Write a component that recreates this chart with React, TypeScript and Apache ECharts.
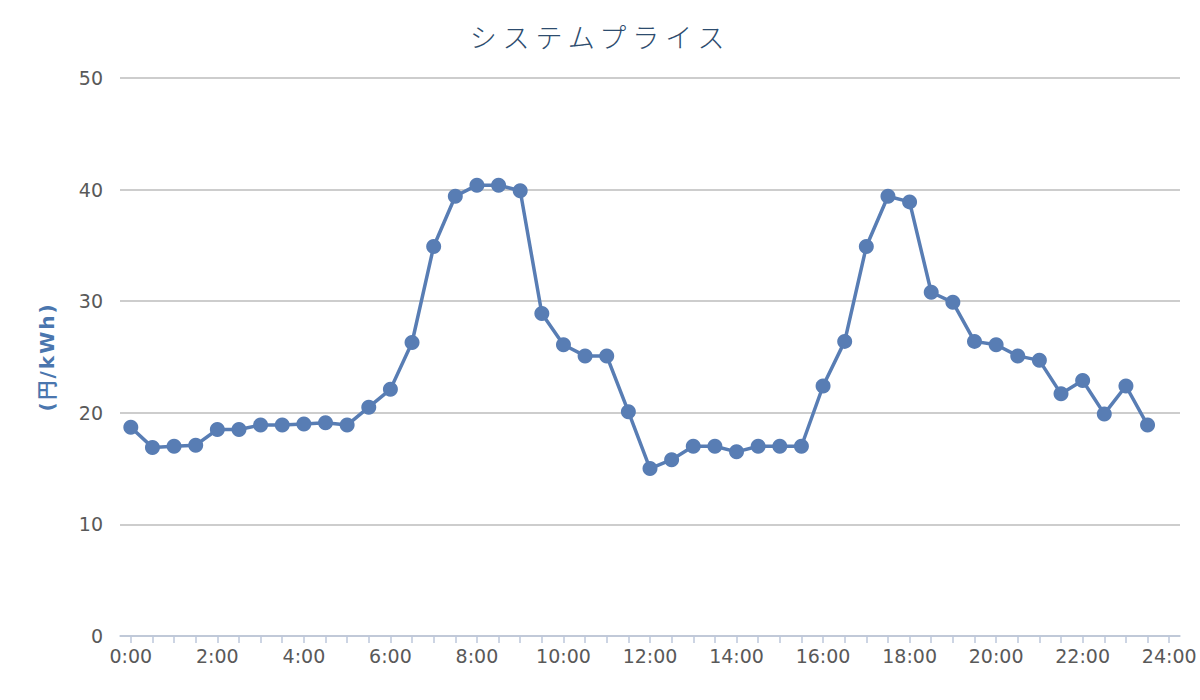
import React, { useEffect, useRef } from "react";
import * as echarts from "echarts";

const times = [
  "0:00", "0:30", "1:00", "1:30", "2:00", "2:30", "3:00", "3:30",
  "4:00", "4:30", "5:00", "5:30", "6:00", "6:30", "7:00", "7:30",
  "8:00", "8:30", "9:00", "9:30", "10:00", "10:30", "11:00", "11:30",
  "12:00", "12:30", "13:00", "13:30", "14:00", "14:30", "15:00", "15:30",
  "16:00", "16:30", "17:00", "17:30", "18:00", "18:30", "19:00", "19:30",
  "20:00", "20:30", "21:00", "21:30", "22:00", "22:30", "23:00", "23:30",
  "24:00",
];

const prices = [
  18.7, 16.9, 17.0, 17.1, 18.5, 18.5, 18.9, 18.9,
  19.0, 19.1, 18.9, 20.5, 22.1, 26.3, 34.9, 39.4,
  40.4, 40.4, 39.9, 28.9, 26.1, 25.1, 25.1, 20.1,
  15.0, 15.8, 17.0, 17.0, 16.5, 17.0, 17.0, 17.0,
  22.4, 26.4, 34.9, 39.4, 38.9, 30.8, 29.9, 26.4,
  26.1, 25.1, 24.7, 21.7, 22.9, 19.9, 22.4, 18.9,
];

const titleText = "システムプライス";
const yAxisName = "(円/kWh)";

export default function App() {
  const ref = useRef<HTMLDivElement>(null);
  useEffect(() => {
    document.body.style.margin = "0";
    const el = ref.current!;
    const chart = echarts.init(el, null, { renderer: "svg" });
    const spaceTexts = () => {
      el.querySelectorAll("text").forEach((t) => {
        if (t.textContent === titleText) {
          (t as SVGTextElement).style.letterSpacing = "6px";
        } else if (t.textContent === yAxisName) {
          (t as SVGTextElement).style.letterSpacing = "2px";
        }
      });
    };
    chart.on("finished", spaceTexts);
    chart.setOption({
      animation: false,
      backgroundColor: "#ffffff",
      title: {
        text: titleText,
        left: "center",
        top: 18,
        textStyle: {
          fontFamily: "Noto Sans CJK JP",
          fontSize: 27,
          fontWeight: 300,
          color: "#2d4c6e",
        },
      },
      grid: { left: 120, right: 20, top: 78, bottom: 64 },
      xAxis: {
        type: "category",
        data: times,
        boundaryGap: true,
        axisLine: { lineStyle: { color: "#bcc7db", width: 1.5 } },
        axisTick: {
          show: true,
          alignWithLabel: true,
          interval: 0,
          length: 7,
          lineStyle: { color: "#bcc7db", width: 1.5 },
        },
        axisLabel: {
          interval: 3,
          margin: 10,
          fontFamily: "DejaVu Sans",
          fontSize: 19,
          color: "#595959",
        },
      },
      yAxis: {
        type: "value",
        min: 0,
        max: 50,
        interval: 10,
        name: yAxisName,
        nameLocation: "middle",
        nameGap: 63,
        nameRotate: 90,
        nameTextStyle: {
          fontFamily: "DejaVu Sans",
          fontSize: 20,
          fontWeight: "bold",
          color: "#4a76ae",
        },
        axisLine: { show: false },
        axisTick: { show: false },
        axisLabel: {
          margin: 17,
          fontFamily: "DejaVu Sans",
          fontSize: 19,
          color: "#595959",
        },
        splitLine: { lineStyle: { color: "#bdbdbd", width: 1.5 } },
      },
      series: [
        {
          type: "line",
          data: prices,
          symbol: "circle",
          symbolSize: 15,
          showAllSymbol: true,
          lineStyle: { color: "#587db4", width: 3.5 },
          itemStyle: { color: "#587db4" },
        },
      ],
    });
    spaceTexts();
    return () => chart.dispose();
  }, []);
  return <div ref={ref} style={{ width: 1200, height: 700 }} />;
}
